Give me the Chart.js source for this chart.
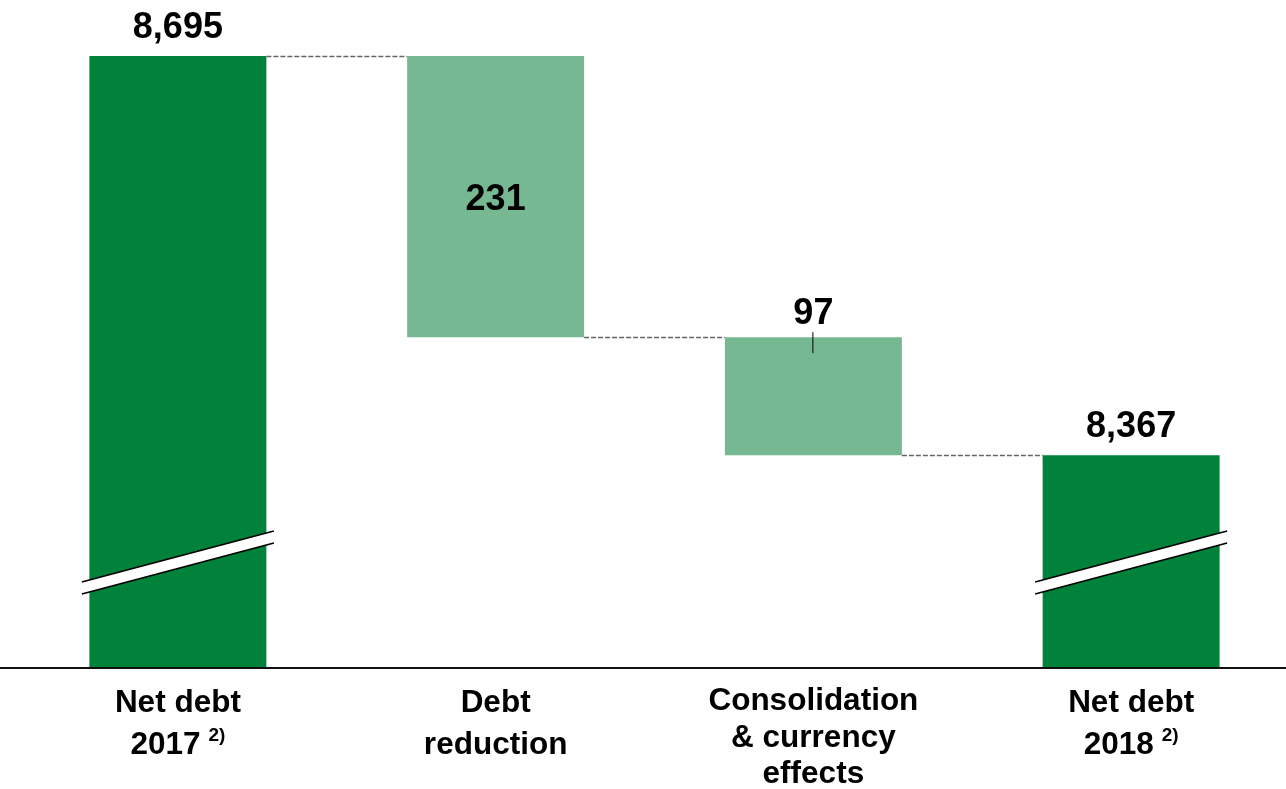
<!DOCTYPE html>
<html>
<head>
<meta charset="utf-8">
<script src="https://cdn.jsdelivr.net/npm/chart.js@4/dist/chart.umd.min.js"></script>
<style>
    html, body { margin: 0; padding: 0; background: #fff; overflow: hidden; }
    #wrap { width: 1290px; height: 789px; position: relative; }
</style>
</head>
<body>
<div id="wrap"><canvas id="netDebtChart"></canvas></div>
<script>
/* ------- 数据 ------- */
const categories = [['Net debt', '2017'], ['Debt', 'reduction'], ['Consolidation', '& currency', 'effects'], ['Net debt', '2018']];
const footnotes = ['2)', '', '', '2)'];
const kinds = ['total', 'delta', 'delta', 'total'];
const values = [8695, -231, -97, 8367];
const valueLabels = ['8,695', '231', '97', '8,367'];

// 断轴：纵轴从 8193 起画
const axisMin = 8193;
const axisMax = 8741;

const darkGreen = '#00823a';
const lightGreen = '#76b892';

/* ------- 瀑布区间 ------- */
const ranges = [];
let running = 0;
values.forEach((v, i) => {
    if (kinds[i] === 'total') {
        running = v;
        ranges.push([axisMin, v]);
    } else {
        const next = running + v;
        ranges.push([Math.min(running, next), Math.max(running, next)]);
        running = next;
    }
});

/* ------- 自定义绘制：连线、断轴标记、数值、分类标签 ------- */
const waterfallDecor = {
    id: 'waterfallDecor',
    afterDatasetsDraw(chart) {
        const ctx = chart.ctx;
        const meta = chart.getDatasetMeta(0);
        const xScale = chart.scales.x;
        const yScale = chart.scales.y;
        const base = yScale.getPixelForValue(axisMin);

        ctx.save();

        // 虚线连接
        ctx.strokeStyle = '#666';
        ctx.lineWidth = 1.5;
        ctx.setLineDash([5, 2]);
        for (let i = 0; i < meta.data.length - 1; i++) {
            const a = meta.data[i], b = meta.data[i + 1];
            const lvl = kinds[i] === 'total' ? ranges[i][1] : ranges[i][0];
            const y = Math.round(yScale.getPixelForValue(lvl)) + 0.5;
            ctx.beginPath();
            ctx.moveTo(a.x + a.width / 2, y);
            ctx.lineTo(b.x - b.width / 2, y);
            ctx.stroke();
        }
        ctx.setLineDash([]);

        // 断轴斜线
        meta.data.forEach((bar, i) => {
            if (kinds[i] !== 'total') return;
            const x1 = bar.x - 96, x2 = bar.x + 96;
            const yl = base - 85, yr = base - 136;
            ctx.fillStyle = '#fff';
            ctx.beginPath();
            ctx.moveTo(x1, yl);
            ctx.lineTo(x2, yr);
            ctx.lineTo(x2, yr + 12);
            ctx.lineTo(x1, yl + 12);
            ctx.closePath();
            ctx.fill();
            ctx.strokeStyle = '#000';
            ctx.lineWidth = 1.8;
            ctx.beginPath();
            ctx.moveTo(x1, yl); ctx.lineTo(x2, yr);
            ctx.moveTo(x1, yl + 12); ctx.lineTo(x2, yr + 12);
            ctx.stroke();
        });

        // 数值标签
        ctx.fillStyle = '#000';
        ctx.font = 'bold 36px Arial, "Liberation Sans", sans-serif';
        ctx.textAlign = 'center';
        ctx.textBaseline = 'alphabetic';
        meta.data.forEach((bar, i) => {
            const top = yScale.getPixelForValue(ranges[i][1]);
            if (i === 1) {
                const mid = (yScale.getPixelForValue(ranges[i][0]) + top) / 2;
                ctx.fillText(valueLabels[i], bar.x, mid + 13);
            } else if (i === 2) {
                ctx.fillText(valueLabels[i], bar.x, top - 13);
                ctx.lineWidth = 1;
                ctx.beginPath();
                ctx.moveTo(bar.x - 0.5, top - 5);
                ctx.lineTo(bar.x - 0.5, top + 16);
                ctx.stroke();
            } else {
                ctx.fillText(valueLabels[i], bar.x, top - 18);
            }
        });

        // 坐标轴线
        ctx.strokeStyle = '#111';
        ctx.lineWidth = 2;
        ctx.beginPath();
        ctx.moveTo(0, base + 1);
        ctx.lineTo(chart.width, base + 1);
        ctx.stroke();

        // 分类标签
        const labelFont = 'bold 31.5px Arial, "Liberation Sans", sans-serif';
        categories.forEach((lines, i) => {
            const cx = xScale.getPixelForValue(i);
            const lh = lines.length === 3 ? 36.5 : 42;
            const y0 = lines.length === 3 ? base + 43 : base + 45;
            lines.forEach((txt, j) => {
                const y = y0 + j * lh;
                const last = j === lines.length - 1;
                ctx.font = labelFont;
                if (last && footnotes[i]) {
                    const w = ctx.measureText(txt).width;
                    ctx.font = 'bold 19px Arial, "Liberation Sans", sans-serif';
                    const fw = ctx.measureText(footnotes[i]).width;
                    const gap = 8;
                    const left = cx - (w + gap + fw) / 2;
                    ctx.textAlign = 'left';
                    ctx.fillText(footnotes[i], left + w + gap, y - 13);
                    ctx.font = labelFont;
                    ctx.fillText(txt, left, y);
                    ctx.textAlign = 'center';
                } else {
                    ctx.fillText(txt, cx, y);
                }
            });
        });

        ctx.restore();
    }
};

new Chart(document.getElementById('netDebtChart'), {
    type: 'bar',
    data: {
        labels: categories.map(l => l.join(' ')),
        datasets: [{
            data: ranges,
            backgroundColor: kinds.map(k => k === 'total' ? darkGreen : lightGreen),
            borderWidth: 0,
            borderSkipped: false,
            barPercentage: 0.557,
            categoryPercentage: 1
        }]
    },
    options: {
        responsive: true,
        maintainAspectRatio: false,
        animation: false,
        layout: { padding: { left: 19, right: 0, top: 0, bottom: 122 } },
        plugins: { legend: { display: false }, tooltip: { enabled: false } },
        scales: {
            x: {
                display: true,
                grid: { display: false, drawTicks: false },
                border: { display: false },
                ticks: { display: false }
            },
            y: {
                display: false,
                min: axisMin,
                max: axisMax
            }
        }
    },
    plugins: [waterfallDecor]
});
</script>
</body>
</html>
